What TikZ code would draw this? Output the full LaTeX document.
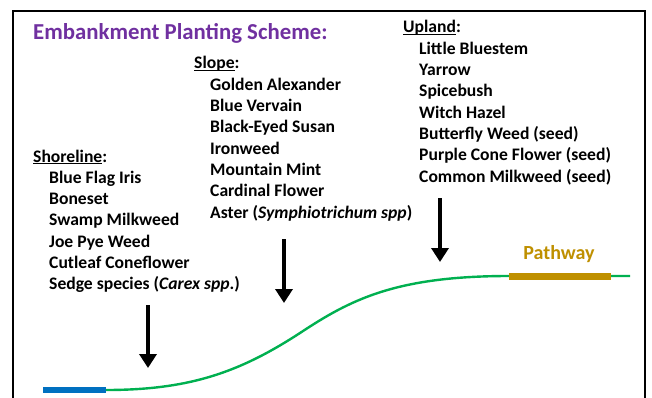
\documentclass[tikz,border=0pt]{standalone}
\usepackage{fontspec}
\setmainfont{Carlito}
\usetikzlibrary{arrows.meta}
\definecolor{titlepurple}{HTML}{7030A0}
\definecolor{pathgold}{HTML}{BF9000}
\definecolor{waterblue}{HTML}{0070C0}
\definecolor{bankgreen}{HTML}{00B050}
\newcommand\hdr[1]{\setbox0\hbox{#1}\rlap{\rule[-2.2pt]{\wd0}{1.3pt}}\box0}
\newcommand\itm[1]{\hbox{\hspace*{16pt}#1}}
\newcommand\plist[1]{\vtop{\baselineskip=21.3pt\lineskiplimit=-20pt #1}}
\tikzset{
  listtext/.style={anchor=base west, inner sep=0pt,
    font=\fontsize{17.6}{21.3}\selectfont\bfseries},
  downarrow/.style={line width=3.6pt, -{Triangle[width=17pt,length=14pt]}},
}
\begin{document}
\begin{tikzpicture}[x=1pt,y=-1pt]
\useasboundingbox (0,0) rectangle (652,398);
\fill[white] (0,0) rectangle (652,398);
\begin{scope}
\clip (0,0) rectangle (652,398);
\draw[line width=2.6pt] (13,11) rectangle (645,420);
\end{scope}
\node[anchor=base west, inner sep=0pt, text=titlepurple,
  font=\fontsize{22.8}{27}\selectfont\bfseries] (title) at (33,40) {Embankment Planting Scheme:};
\node[listtext] (shore) at (33,162) {\plist{\hbox{\hdr{Shoreline}:}
\itm{Blue Flag Iris}
\itm{Boneset}
\itm{Swamp Milkweed}
\itm{Joe Pye Weed}
\itm{Cutleaf Coneflower}
\itm{Sedge species (\textit{Carex spp}.)}}};
\node[listtext] (slope) at (194,69) {\plist{\hbox{\hdr{Slope}:}
\itm{Golden Alexander}
\itm{Blue Vervain}
\itm{Black-Eyed Susan}
\itm{Ironweed}
\itm{Mountain Mint}
\itm{Cardinal Flower}
\itm{Aster (\textit{Symphiotrichum spp})}}};
\node[listtext] (upland) at (403,33) {\plist{\hbox{\hdr{Upland}:}
\itm{Little Bluestem}
\itm{Yarrow}
\itm{Spicebush}
\itm{Witch Hazel}
\itm{Butterfly Weed (seed)}
\itm{Purple Cone Flower (seed)}
\itm{Common Milkweed (seed)}}};
\node[anchor=base, inner sep=0pt, text=pathgold,
  font=\fontsize{20}{24}\selectfont\bfseries] (pathlabel) at (559,259) {Pathway};
% arrows
\coordinate (a1s) at (148,305); \coordinate (a1e) at (148,368);
\coordinate (a2s) at (284,239); \coordinate (a2e) at (284,303);
\coordinate (a3s) at (440,198); \coordinate (a3e) at (440,262);
\draw[downarrow] (a1s) -- (a1e);
\draw[downarrow] (a2s) -- (a2e);
\draw[downarrow] (a3s) -- (a3e);
% ground profile
\coordinate (w0) at (43,390); \coordinate (w1) at (106,390);
\coordinate (mid) at (300,333);
\coordinate (p0) at (509,276); \coordinate (p1) at (611,276);
\coordinate (gend) at (630,276);
\draw[bankgreen, line width=2.4pt] (w1) .. controls (190,390) and (240,372) .. (mid)
  .. controls (350,300) and (395,276) .. (p0) -- (gend);
\draw[waterblue, line width=6.5pt] (w0) -- (w1);
\draw[pathgold, line width=7pt] (p0) -- (p1);
\end{tikzpicture}
\end{document}
